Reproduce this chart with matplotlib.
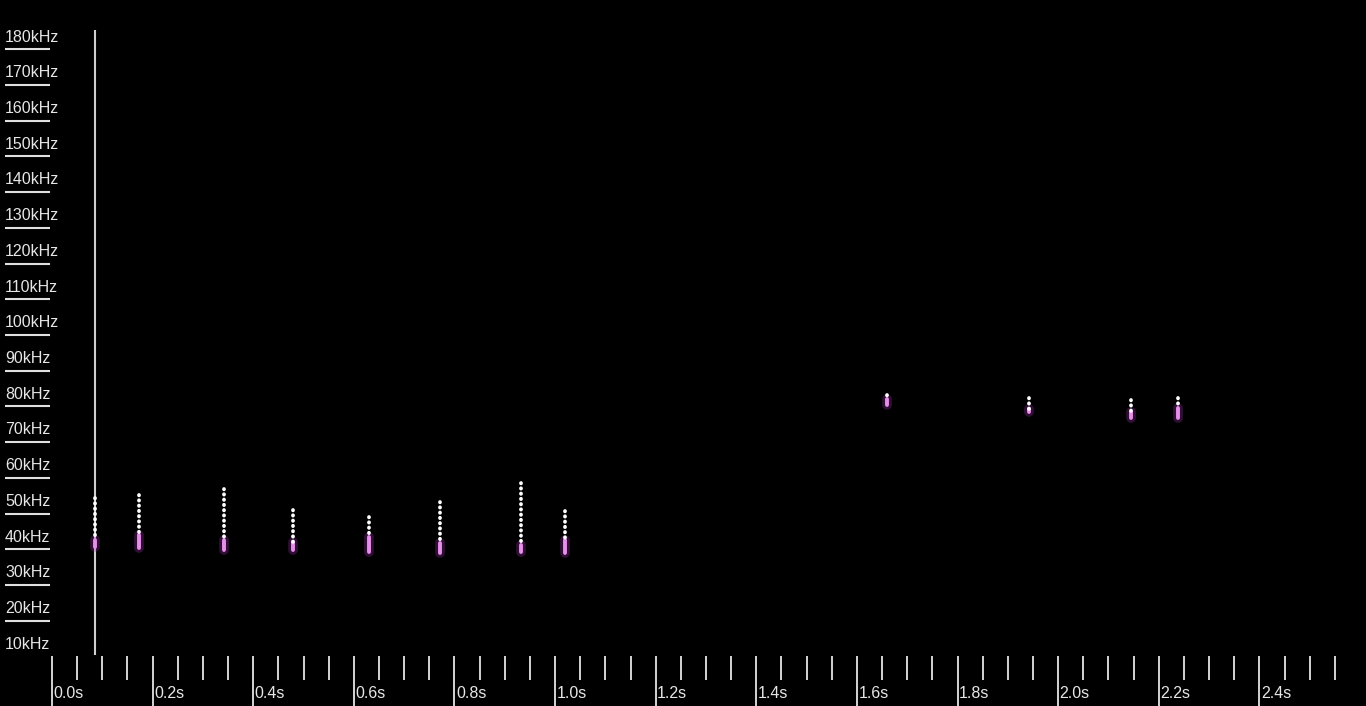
import matplotlib
matplotlib.use("Agg")
import matplotlib.pyplot as plt
import matplotlib.transforms as mtransforms
import numpy as np

# bat pass: one entry per detected call
call_time = [0.0855, 0.173, 0.342, 0.479, 0.630, 0.771, 0.932, 1.020,
             1.660, 1.942, 2.145, 2.239]                       # s
call_fstart = [50.9, 51.8, 53.4, 47.6, 45.6, 49.8, 55.1, 47.3,
               79.8, 78.9, 78.4, 78.9]                         # kHz, top of sweep
call_fend = [37.2, 36.9, 36.4, 36.4, 35.8, 35.5, 35.8, 35.5,
             77.0, 75.0, 73.3, 73.3]                           # kHz, bottom of sweep
call_fknee = [39.2, 40.6, 39.2, 38.6, 40.0, 38.3, 37.8, 39.2,
              78.6, 75.8, 75.0, 76.2]                          # kHz, start of pink tail

freq_labels = list(range(10, 190, 10))                         # kHz
time_ticks = np.round(np.arange(0, 2.551, 0.05), 2)
time_labels = [0.0, 0.2, 0.4, 0.6, 0.8, 1.0, 1.2, 1.4, 1.6, 1.8, 2.0, 2.2, 2.4]
cursor_time = 0.0855

FONT = ["Liberation Sans", "DejaVu Sans"]
GREY = "#d4d4d4"

fig = plt.figure(figsize=(13.66, 7.06), dpi=100, facecolor="black")
ax = fig.add_axes([0, 0, 1, 1])
ax.set_facecolor("black")
ax.set_xlim(-0.1034, 2.612)
ax.set_ylim(-7.3, 190.4)
ax.axis("off")

# frequency scale on the left, label over a short rule
ytrans = mtransforms.blended_transform_factory(ax.transAxes, ax.transData)
for f in freq_labels:
    ax.text(0.0037, f, f"{f}kHz", transform=ytrans, color="#e6e6e6",
            fontsize=11.5, family=FONT, va="center", ha="left")
    if f > 10:
        ax.plot([0.0037, 0.0366], [f - 3.4, f - 3.4], transform=ytrans,
                color="#e0e0e0", lw=1.5, solid_capstyle="butt")

# time ruler at the bottom
for t in time_ticks:
    major = any(abs(t - m) < 1e-6 for m in time_labels)
    y0 = -7.3 if major else 0.0
    ax.plot([t, t], [y0, 6.7], color=GREY, lw=1.4, solid_capstyle="butt")
for m in time_labels:
    ax.text(m + 0.003, -3.8, f"{m:.1f}s", color="#e6e6e6", fontsize=11.5,
            family=FONT, va="center", ha="left")

# playback cursor
ax.plot([cursor_time, cursor_time], [6.9, 182.0], color="#cfcfcf", lw=1.5,
        solid_capstyle="butt")

# calls: beaded white sweep with a glowing pink tail at the low end
for t, fs, fe, fk in zip(call_time, call_fstart, call_fend, call_fknee):
    ax.plot([t, t], [fk, fe], color="#a030b0", lw=7, alpha=0.3,
            solid_capstyle="round")
    ax.plot([t, t], [fk, fe], color="#e590e8", lw=2.8,
            solid_capstyle="round")
    ax.plot([t, t], [fs, fk], color="white", lw=2.7,
            linestyle=(0, (0.1, 1.3)), dash_capstyle="round")

fig.savefig("out.png", dpi=100, facecolor="black")
